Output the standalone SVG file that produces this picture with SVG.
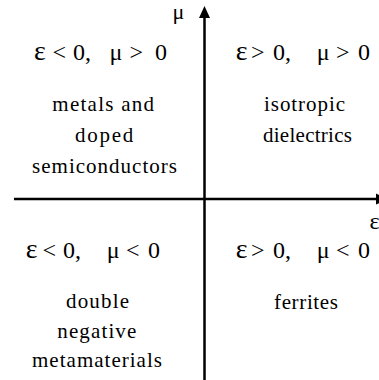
<svg xmlns="http://www.w3.org/2000/svg" width="379" height="380" viewBox="0 0 379 380">
<style>
.lab{font-family:'Liberation Serif','Times New Roman',serif;font-size:24px;fill:#000}
.mu{font-family:'Liberation Serif','Times New Roman',serif;font-size:22px;fill:#000}
.e{font-size:28px}
.body{font-family:'Liberation Serif','Times New Roman',serif;font-size:21px;fill:#000}
.ax{stroke:#000;stroke-width:2.5;fill:none}
</style>
<rect width="379" height="380" fill="#fff"/>
<g id="connectors">
<line class="ax" x1="204.5" y1="380" x2="204.5" y2="14"/>
<polygon points="204.5,6 199,18 210,18"/>
<line class="ax" x1="14" y1="199" x2="377" y2="199"/>
<polygon points="388,199 376,193.5 376,204.5"/>
</g>
<g id="axis-mu"><text class="mu" x="172.5" y="19">μ</text></g>
<g id="axis-eps"><text class="lab" x="369.5" y="229">ε</text></g>
<g id="q2">
<text class="lab" y="59.5"><tspan class="e" x="34">ε</tspan><tspan x="52.5">&lt;</tspan><tspan x="73">0,</tspan><tspan x="109.5">μ</tspan><tspan x="129.5">&gt;</tspan><tspan x="155">0</tspan></text>
<text class="body" x="52.3" y="111" textLength="101.7" lengthAdjust="spacing">metals and</text>
<text class="body" x="75" y="142" textLength="58.3" lengthAdjust="spacing">doped</text>
<text class="body" x="32" y="173" textLength="145" lengthAdjust="spacing">semiconductors</text>
</g>
<g id="q1">
<text class="lab" y="59.5"><tspan class="e" x="235.7">ε</tspan><tspan x="251">&gt;</tspan><tspan x="273">0,</tspan><tspan x="316.8">μ</tspan><tspan x="336">&gt;</tspan><tspan x="358">0</tspan></text>
<text class="body" x="264" y="111" textLength="81" lengthAdjust="spacing">isotropic</text>
<text class="body" x="263" y="142" textLength="89" lengthAdjust="spacing">dielectrics</text>
</g>
<g id="q3">
<text class="lab" y="257.5"><tspan class="e" x="25.7">ε</tspan><tspan x="42.6">&lt;</tspan><tspan x="63">0,</tspan><tspan x="106.8">μ</tspan><tspan x="126">&lt;</tspan><tspan x="148">0</tspan></text>
<text class="body" x="66" y="308" textLength="63" lengthAdjust="spacing">double</text>
<text class="body" x="57.3" y="338" textLength="79" lengthAdjust="spacing">negative</text>
<text class="body" x="32" y="367" textLength="130" lengthAdjust="spacing">metamaterials</text>
</g>
<g id="q4">
<text class="lab" y="257.5"><tspan class="e" x="235.7">ε</tspan><tspan x="251">&gt;</tspan><tspan x="273">0,</tspan><tspan x="316.8">μ</tspan><tspan x="336">&lt;</tspan><tspan x="358">0</tspan></text>
<text class="body" x="274" y="309" textLength="64" lengthAdjust="spacing">ferrites</text>
</g>
</svg>
